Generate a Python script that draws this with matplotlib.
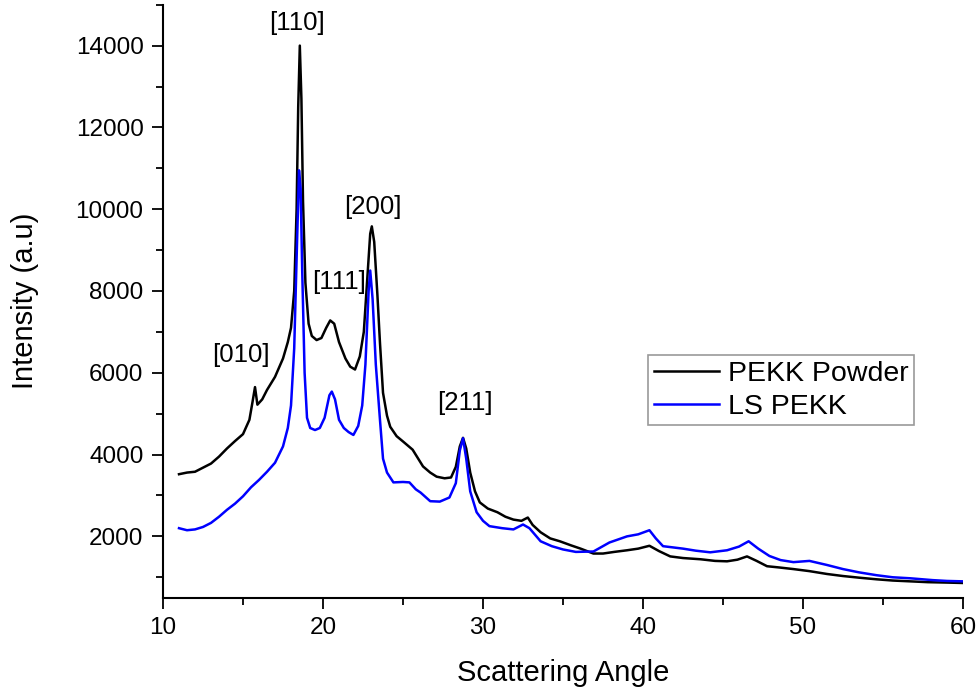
import matplotlib
matplotlib.use("Agg")
import matplotlib.pyplot as plt
from matplotlib.ticker import MultipleLocator

plt.rcParams['font.family'] = ['Liberation Sans', 'DejaVu Sans']

# PEKK Powder (black)
powder_x = [11.0, 11.5, 12.0, 12.5, 13.0, 13.5, 14.0, 14.5, 15.0, 15.4, 15.6, 15.75, 15.9,
            16.2, 16.5, 17.0, 17.5, 17.8, 18.0, 18.2, 18.35, 18.45, 18.55, 18.65, 18.75,
            18.9, 19.1, 19.3, 19.6, 19.9, 20.2, 20.45, 20.7, 21.0, 21.4, 21.7, 22.0, 22.3,
            22.55, 22.75, 22.95, 23.05, 23.2, 23.4, 23.56, 23.75, 24.0, 24.2, 24.6, 25.0,
            25.6, 26.25, 26.7, 27.1, 27.6, 28.0, 28.3, 28.55, 28.75, 28.95, 29.2, 29.5,
            29.8, 30.3, 30.9, 31.4, 31.9, 32.4, 32.8, 33.1, 33.6, 34.2, 34.8, 35.5, 36.1,
            36.9, 37.5, 38.2, 39.0, 39.7, 40.4, 41.0, 41.7, 42.5, 43.6, 44.5, 45.25, 45.9,
            46.5, 47.1, 47.75, 48.5, 49.4, 50.4, 51.5, 52.5, 53.5, 54.6, 55.6, 56.7, 57.8,
            59.0, 60.0]
powder_y = [3520, 3560, 3580, 3680, 3780, 3950, 4150, 4330, 4500, 4850, 5300, 5650, 5220,
            5350, 5580, 5900, 6350, 6750, 7100, 8000, 10000, 12500, 14000, 12700, 10200,
            8200, 7200, 6900, 6800, 6850, 7100, 7280, 7200, 6750, 6350, 6150, 6080, 6400,
            7000, 8200, 9400, 9580, 9200, 7900, 6730, 5510, 4950, 4680, 4450, 4320,
            4120, 3710, 3560, 3460, 3420, 3440, 3700, 4200, 4410, 4150, 3560, 3100,
            2830, 2680, 2590, 2480, 2410, 2380, 2460, 2280, 2100, 1950, 1880, 1780, 1700,
            1580, 1580, 1620, 1660, 1700, 1770, 1640, 1510, 1470, 1440, 1400, 1390, 1430,
            1510, 1400, 1270, 1240, 1200, 1150, 1080, 1030, 990, 950, 920, 900, 880,
            870, 860]

# LS PEKK (blue)
ls_x = [11.0, 11.5, 12.0, 12.5, 13.0, 13.5, 14.0, 14.5, 15.0, 15.5, 16.0, 16.5, 17.0, 17.5,
        17.8, 18.0, 18.2, 18.35, 18.5, 18.6, 18.7, 18.85, 19.0, 19.2, 19.5, 19.8, 20.1,
        20.4, 20.55, 20.75, 21.0, 21.3, 21.6, 21.9, 22.2, 22.45, 22.65, 22.85, 22.95,
        23.1, 23.3, 23.56, 23.75, 24.0, 24.4, 25.0, 25.4, 25.8, 26.1, 26.7, 27.3, 27.9,
        28.3, 28.55, 28.75, 28.95, 29.2, 29.6, 30.0, 30.4, 31.2, 31.9, 32.5, 32.9, 33.6,
        34.3, 35.0, 35.8, 36.9, 37.9, 39.0, 39.7, 40.4, 40.8, 41.25, 42.5, 43.3, 44.2,
        45.25, 46.0, 46.6, 47.2, 47.9, 48.6, 49.4, 50.4, 51.5, 52.5, 53.5, 54.6, 55.6,
        56.7, 58.1, 59.0, 60.0]
ls_y = [2200, 2150, 2170, 2230, 2330, 2480, 2650, 2800, 2980, 3200, 3380, 3580, 3800, 4200,
        4650, 5200, 6600, 8800, 10950, 10500, 8500, 6000, 4900, 4650, 4600, 4650, 4900,
        5450, 5540, 5350, 4850, 4650, 4550, 4480, 4700, 5200, 6200, 8000, 8500,
        7800, 6200, 4850, 3900, 3560, 3320, 3330, 3320, 3150, 3070, 2860, 2850, 2950,
        3300, 4100, 4400, 3900, 3100, 2590, 2380, 2250, 2200, 2170, 2290, 2200, 1880,
        1760, 1680, 1620, 1630, 1850, 2000, 2050, 2150, 1950, 1760, 1700, 1650, 1610,
        1660, 1750, 1880, 1700, 1520, 1420, 1370, 1400, 1300, 1200, 1120, 1050, 1000,
        975, 930, 910, 900]

peak_labels = ['[010]', '[110]', '[111]', '[200]', '[211]']
peak_x = [14.9, 18.4, 21.0, 23.1, 28.9]
peak_y = [6440, 14560, 8220, 10050, 5270]

fig = plt.figure(figsize=(9.79, 6.93), dpi=100)
ax = fig.add_axes([0.1665, 0.1375, 0.8172, 0.8557])

ax.plot(powder_x, powder_y, color='black', lw=1.8, label='PEKK Powder')
ax.plot(ls_x, ls_y, color='#0000ff', lw=1.8, label='LS PEKK')

for lab, px, py in zip(peak_labels, peak_x, peak_y):
    ax.text(px, py, lab, fontsize=18.5, ha='center', va='center')

ax.set_xlim(10, 60)
ax.set_ylim(500, 15000)
ax.xaxis.set_major_locator(MultipleLocator(10))
ax.xaxis.set_minor_locator(MultipleLocator(5))
ax.yaxis.set_minor_locator(MultipleLocator(1000))
ax.set_yticks([2000, 4000, 6000, 8000, 10000, 12000, 14000])

for s in ['top', 'right']:
    ax.spines[s].set_visible(False)
for s in ['left', 'bottom']:
    ax.spines[s].set_linewidth(1.5)

ax.tick_params(which='major', direction='out', length=8, width=1.3, labelsize=17.5, pad=6)
ax.tick_params(which='minor', direction='out', length=5, width=1.3)

ax.set_xlabel('Scattering Angle', fontsize=21, labelpad=14)
ax.set_ylabel('Intensity (a.u)', fontsize=21)
ax.yaxis.set_label_coords(-0.155, 0.5)

leg = ax.legend(loc='upper left', bbox_to_anchor=(0.662, 0.488), bbox_transform=fig.transFigure,
                fontsize=20.5, frameon=True, fancybox=False, edgecolor='#808080',
                handlelength=2.3, handletextpad=0.3, labelspacing=0.25, borderpad=0.2,
                borderaxespad=0)
leg.get_frame().set_linewidth(1.2)

fig.savefig('out.png', dpi=100)
